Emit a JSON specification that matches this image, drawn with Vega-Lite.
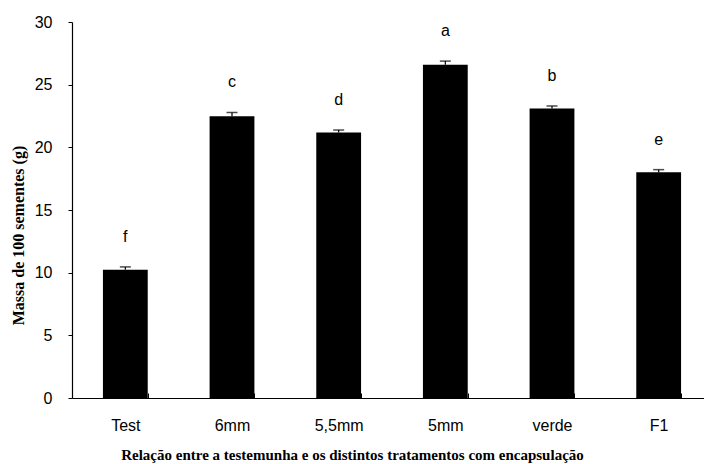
{
  "$schema": "https://vega.github.io/schema/vega-lite/v6.json",
  "width": 640,
  "height": 376,
  "autosize": {"type": "none"},
  "padding": {"left": 72, "top": 22, "right": -8, "bottom": 66},
  "background": "white",
  "config": {
    "view": {"stroke": null},
    "axis": {"grid": false, "domainColor": "black", "tickColor": "black", "labelColor": "black", "titleColor": "black"}
  },
  "data": {
    "values": [
      {"tratamento": "Test", "massa": 10.24, "erro": 0.22, "letra": "f"},
      {"tratamento": "6mm", "massa": 22.48, "erro": 0.3, "letra": "c"},
      {"tratamento": "5,5mm", "massa": 21.18, "erro": 0.2, "letra": "d"},
      {"tratamento": "5mm", "massa": 26.58, "erro": 0.3, "letra": "a"},
      {"tratamento": "verde", "massa": 23.1, "erro": 0.2, "letra": "b"},
      {"tratamento": "F1", "massa": 18.02, "erro": 0.2, "letra": "e"}
    ]
  },
  "transform": [{"calculate": "datum.massa + datum.erro", "as": "topo"}],
  "encoding": {
    "x": {
      "field": "tratamento",
      "type": "nominal",
      "sort": null,
      "scale": {"paddingInner": 0.58, "paddingOuter": 0.29},
      "axis": {
        "title": "Relação entre a testemunha e os distintos tratamentos com encapsulação",
        "titleFont": "Liberation Serif",
        "titleFontWeight": "bold",
        "titleFontSize": 15,
        "titlePadding": 14,
        "titleX": 280,
        "titleAnchor": null,
        "labelFont": "Liberation Sans",
        "labelFontSize": 16,
        "labelAngle": 0,
        "labelPadding": 24,
        "labelOverlap": false,
        "tickBand": "extent",
        "tickSize": -5,
        "domainWidth": 1.2
      }
    }
  },
  "layer": [
    {
      "mark": {"type": "bar", "color": "black"},
      "encoding": {
        "y": {
          "field": "massa",
          "type": "quantitative",
          "scale": {"domain": [0, 30], "nice": false},
          "axis": {
            "title": "Massa de 100 sementes (g)",
            "titleFont": "Liberation Serif",
            "titleFontWeight": "bold",
            "titleFontSize": 16,
            "titlePadding": 8,
            "titleY": 213,
            "labelFont": "Liberation Sans",
            "labelFontSize": 16,
            "labelPadding": 16,
            "labelOverlap": false,
            "values": [0, 5, 10, 15, 20, 25, 30],
            "tickSize": 4,
            "domainWidth": 1.2
          }
        }
      }
    },
    {
      "mark": {"type": "rule", "color": "black", "strokeWidth": 1.2},
      "encoding": {
        "y": {"field": "massa", "type": "quantitative"},
        "y2": {"field": "topo"}
      }
    },
    {
      "mark": {"type": "tick", "color": "black", "size": 11, "thickness": 1.5, "orient": "horizontal"},
      "encoding": {
        "y": {"field": "topo", "type": "quantitative"}
      }
    },
    {
      "mark": {"type": "text", "font": "Liberation Sans", "fontSize": 16, "baseline": "bottom", "dy": -22, "color": "black"},
      "encoding": {
        "y": {"field": "topo", "type": "quantitative"},
        "text": {"field": "letra"}
      }
    }
  ]
}
